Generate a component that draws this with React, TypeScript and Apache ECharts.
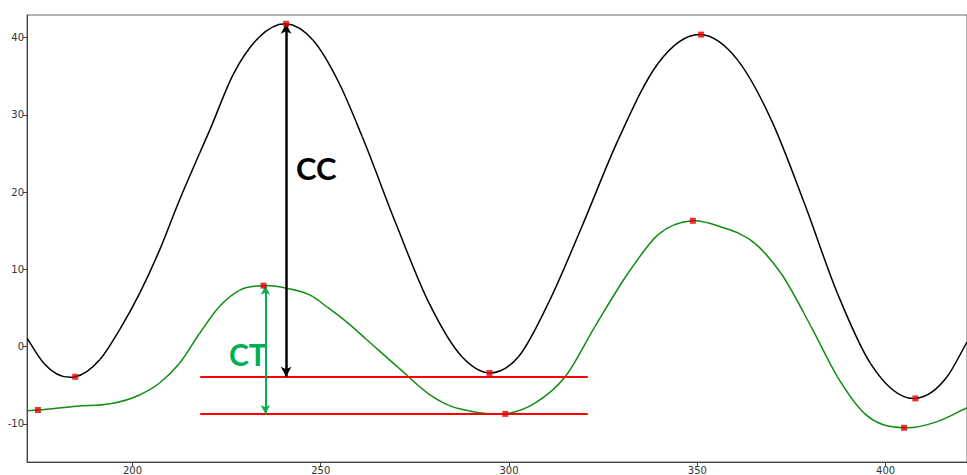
import React, { useEffect, useRef } from "react";
import * as echarts from "echarts";

const xTicks = [200, 250, 300, 350, 400];
const yTicks = [-10, 0, 10, 20, 30, 40];

const ccCurve: [number, number][] = [
  [172.0, 1.1], [176.4, -2.1], [184.8, -3.9], [191.3, -1.7], [196.6, 2.2],
  [201.9, 6.9], [207.2, 12.5], [212.5, 19.0], [217.8, 25.0], [220.5, 28.0],
  [226.7, 35.2], [233.7, 40.1], [240.8, 41.8], [247.9, 39.7], [254.9, 34.1],
  [261.0, 27.2], [269.9, 16.0], [278.7, 5.7], [287.5, -1.3], [294.8, -3.4],
  [302.5, -1.3], [310.5, 5.7], [319.3, 15.5], [329.0, 26.8], [339.6, 36.7],
  [351.0, 40.4], [360.7, 37.1], [369.6, 29.4], [378.4, 18.6], [387.2, 6.9],
  [396.0, -2.2], [407.9, -6.7], [416.3, -3.9], [421.6, 0.6],
];

const ctCurve: [number, number][] = [
  [172.0, -8.3], [174.9, -8.2], [185.3, -7.7], [194.1, -7.4], [201.9, -6.25],
  [207.2, -4.7], [212.5, -2.15], [217.8, 1.7], [223.1, 5.2], [228.4, 7.3],
  [234.8, 7.9], [241.5, 7.5], [247.8, 6.5], [251.5, 5.2], [256.6, 3.3],
  [262.0, 1.0], [270.7, -2.75], [279.5, -6.4], [284.0, -7.6], [289.3, -8.3],
  [292.7, -8.6], [299.0, -8.7], [306.9, -7.3], [314.9, -3.9], [322.8, 2.6],
  [331.6, 9.5], [339.6, 14.5], [348.8, 16.3], [356.3, 15.5], [365.2, 13.4],
  [372.2, 9.5], [380.2, 2.6], [387.2, -3.9], [394.3, -8.6], [404.9, -10.5],
  [413.7, -9.7], [421.6, -7.9],
];

const ccExtrema: [number, number][] = [
  [184.8, -3.9], [240.8, 41.8], [294.8, -3.4], [351.0, 40.4], [407.9, -6.7],
];
const ctExtrema: [number, number][] = [
  [174.9, -8.2], [234.8, 7.9], [299.0, -8.7], [348.8, 16.3], [404.9, -10.5],
];

// reference lines: [xStart, xEnd, y]
const refLines: [number, number, number][] = [
  [218.0, 320.9, -3.9],
  [218.0, 320.9, -8.7],
];
// arrows: [x, yTop, yBottom]
const ccArrow: [number, number, number] = [240.8, 41.8, -3.9];
const ctArrow: [number, number, number] = [235.3, 7.9, -8.7];

// cubic Hermite segments (in data space) for a smooth curve through the points
function hermiteSegments(pts: [number, number][]) {
  const n = pts.length;
  const d: number[] = [];
  for (let i = 0; i < n - 1; i++) {
    d.push((pts[i + 1][1] - pts[i][1]) / (pts[i + 1][0] - pts[i][0]));
  }
  const m: number[] = [];
  for (let i = 0; i < n; i++) {
    if (i === 0) m.push(d[0]);
    else if (i === n - 1) m.push(d[n - 2]);
    else {
      const h0 = pts[i][0] - pts[i - 1][0];
      const h1 = pts[i + 1][0] - pts[i][0];
      m.push((h0 * d[i] + h1 * d[i - 1]) / (h0 + h1));
    }
  }
  const segs: number[][][] = [];
  for (let i = 0; i < n - 1; i++) {
    const [x0, y0] = pts[i];
    const [x1, y1] = pts[i + 1];
    const h = x1 - x0;
    segs.push([
      [x0, y0],
      [x0 + h / 3, y0 + (m[i] * h) / 3],
      [x1 - h / 3, y1 - (m[i + 1] * h) / 3],
      [x1, y1],
    ]);
  }
  return segs;
}

function curveSeries(pts: [number, number][], color: string) {
  const segs = hermiteSegments(pts);
  return {
    type: "custom",
    data: pts,
    encode: { x: 0, y: 1 },
    clip: true,
    z: 2,
    silent: true,
    renderItem: (params: any, api: any) => {
      const seg = segs[params.dataIndex];
      if (!seg) return null;
      const p0 = api.coord(seg[0]);
      const c1 = api.coord(seg[1]);
      const c2 = api.coord(seg[2]);
      const p1 = api.coord(seg[3]);
      return {
        type: "bezierCurve",
        shape: {
          x1: p0[0], y1: p0[1], cpx1: c1[0], cpy1: c1[1],
          cpx2: c2[0], cpy2: c2[1], x2: p1[0], y2: p1[1],
        },
        style: { stroke: color, lineWidth: 1.5, fill: "none" },
      };
    },
  };
}

export default function App() {
  const ref = useRef<HTMLDivElement>(null);
  useEffect(() => {
    if (!ref.current) return;
    const chart = echarts.init(ref.current, null, { renderer: "svg" });
    const axisFont = { fontFamily: "DejaVu Sans", fontSize: 10, color: "#333" };
    chart.setOption({
      animation: false,
      backgroundColor: "#fff",
      grid: {
        left: 27, top: 15, right: -3, bottom: 13,
        show: true, borderColor: "#666", borderWidth: 1,
      },
      xAxis: {
        type: "value", min: 172.0, max: 421.6,
        splitLine: { show: false },
        axisLine: { show: true, onZero: false, lineStyle: { color: "#444", width: 1 } },
        axisTick: { show: true, length: 4, lineStyle: { color: "#444" }, customValues: xTicks },
        axisLabel: { ...axisFont, margin: 3, customValues: xTicks },
      },
      yAxis: {
        type: "value", min: -14.93, max: 42.94,
        splitLine: { show: false },
        axisLine: { show: true, onZero: false, lineStyle: { color: "#444", width: 1 } },
        axisTick: { show: true, length: 4, lineStyle: { color: "#444" }, customValues: yTicks },
        axisLabel: { ...axisFont, margin: 3, customValues: yTicks },
      },
      series: [
        curveSeries(ccCurve, "#000"),
        curveSeries(ctCurve, "#108c10"),
        {
          type: "line", data: [], z: 3,
          markLine: {
            silent: true, symbol: ["none", "none"], label: { show: false },
            lineStyle: { color: "#ff0000", width: 2, type: "solid" },
            data: refLines.map(([a, b, y]) => [{ coord: [a, y] }, { coord: [b, y] }]),
          },
        },
        {
          type: "line", data: [], z: 4,
          markLine: {
            silent: true, symbol: ["arrow", "arrow"], symbolSize: [8, 10],
            label: { show: false },
            lineStyle: { color: "#000", width: 2.5, type: "solid" },
            data: [[{ coord: [ccArrow[0], ccArrow[1]] }, { coord: [ccArrow[0], ccArrow[2]] }]],
          },
        },
        {
          type: "line", data: [], z: 4,
          markLine: {
            silent: true, symbol: ["arrow", "arrow"], symbolSize: [7, 9],
            label: { show: false },
            lineStyle: { color: "#00b050", width: 2, type: "solid" },
            data: [[{ coord: [ctArrow[0], ctArrow[1]] }, { coord: [ctArrow[0], ctArrow[2]] }]],
          },
        },
        {
          type: "scatter", data: [...ccExtrema, ...ctExtrema], symbol: "rect",
          symbolSize: 6, itemStyle: { color: "#e00000" }, z: 6,
        },
      ],
      graphic: [
        {
          type: "text", x: 296, y: 168, z: 10,
          style: {
            text: "CC", fill: "#000", font: "bold 31px Lato",
            textAlign: "left", textVerticalAlign: "middle",
          },
        },
        {
          type: "text", x: 229, y: 354, z: 10,
          style: {
            text: "CT", fill: "#00b050", font: "bold 30px Lato",
            textAlign: "left", textVerticalAlign: "middle",
          },
        },
      ],
    });
    return () => chart.dispose();
  }, []);
  return (
    <div
      ref={ref}
      style={{ position: "fixed", left: 0, top: 0, width: 967, height: 475 }}
    />
  );
}
